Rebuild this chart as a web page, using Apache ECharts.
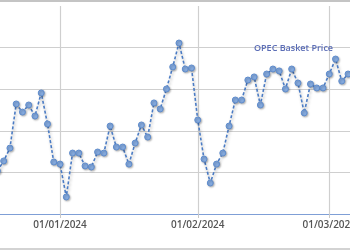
<!DOCTYPE html>
<html>
<head>
<meta charset="utf-8">
<script src="https://cdn.jsdelivr.net/npm/echarts@6/dist/echarts.min.js"></script>
<style>html,body{margin:0;padding:0;background:#fff;}#c{width:350px;height:250px;}</style>
</head>
<body>
<div id="c"></div>
<script>
var dates = [
  "15/12/2023","18/12/2023","19/12/2023","20/12/2023","21/12/2023","22/12/2023","26/12/2023","27/12/2023","28/12/2023","29/12/2023",
  "01/01/2024","02/01/2024","03/01/2024","04/01/2024","05/01/2024","08/01/2024","09/01/2024","10/01/2024","11/01/2024","12/01/2024",
  "16/01/2024","17/01/2024","18/01/2024","19/01/2024","22/01/2024","23/01/2024","24/01/2024","25/01/2024","26/01/2024","29/01/2024",
  "30/01/2024","31/01/2024",
  "01/02/2024","02/02/2024","05/02/2024","06/02/2024","07/02/2024","08/02/2024","09/02/2024","12/02/2024","13/02/2024","14/02/2024",
  "15/02/2024","16/02/2024","19/02/2024","20/02/2024","21/02/2024","22/02/2024","23/02/2024","26/02/2024","27/02/2024","28/02/2024",
  "29/02/2024",
  "01/03/2024","04/03/2024","05/03/2024","06/03/2024","07/03/2024"
];
var prices = [
  76.07,76.55,77.17,79.29,78.90,79.24,78.71,79.82,78.33,76.50,
  76.40,74.82,76.93,76.93,76.31,76.26,76.98,76.93,78.23,77.22,
  77.22,76.40,77.41,78.28,77.70,79.34,79.05,80.01,81.07,82.22,
  80.97,81.02,
  78.52,76.64,75.49,76.40,76.93,78.23,79.48,79.48,80.44,80.59,
  79.24,80.73,80.97,80.88,80.01,80.97,80.30,78.86,80.25,80.06,
  80.06,
  80.73,81.45,80.39,80.73,80.92
];
var monthStarts = ["01/01/2024","01/02/2024","01/03/2024"];
var yTicks = [74, 76, 78, 80, 82, 84];

function isMonthStart(idx, val) { return monthStarts.indexOf(dates[idx]) >= 0; }

var chart = echarts.init(document.getElementById('c'), null, {renderer: 'canvas'});
chart.setOption({
  animation: false,
  title: {
    text: 'OPEC Basket Price',
    left: 254, top: 44, padding: 0,
    textStyle: {fontFamily: 'Open Sans', fontSize: 9, fontWeight: 600, color: '#5b6db6'}
  },
  grid: {left: -2.6, right: -4.3, top: 6, bottom: 36, containLabel: false, outerBoundsMode: 'none'},
  xAxis: {
    type: 'category',
    data: dates,
    boundaryGap: false,
    axisLine: {show: true, lineStyle: {color: '#7f9fd6', width: 1.2}},
    axisTick: {show: true, interval: isMonthStart, length: 4, lineStyle: {color: '#c8c8c8'}},
    splitLine: {show: true, interval: isMonthStart, lineStyle: {color: '#cfcfcf', width: 1.2}},
    axisLabel: {
      interval: isMonthStart, margin: 6,
      fontFamily: 'Open Sans', fontSize: 10, fontWeight: 600, color: '#555555',
      formatter: function (v) { return v; }
    }
  },
  yAxis: {
    type: 'value',
    min: yTicks[0], max: yTicks[yTicks.length - 1], interval: 2,
    axisLine: {show: false}, axisTick: {show: false}, axisLabel: {show: false},
    splitLine: {show: true, lineStyle: {color: ['#cfcfcf','#cfcfcf','#cfcfcf','#cfcfcf','#cfcfcf','rgba(0,0,0,0)'], width: 1.2}}
  },
  graphic: [
    {type: 'line', shape: {x1: 0, y1: 1, x2: 350, y2: 1}, style: {stroke: '#c4c4c4', lineWidth: 2}, silent: true},
    {type: 'line', shape: {x1: 0, y1: 249, x2: 350, y2: 249}, style: {stroke: '#c4c4c4', lineWidth: 1.5}, silent: true}
  ],
  series: [{
    name: 'OPEC Basket Price',
    type: 'line',
    data: prices,
    clip: true,
    symbol: 'circle',
    symbolSize: 6,
    showAllSymbol: true,
    lineStyle: {color: '#4a7bc4', width: 1.6, type: [3, 2], shadowColor: 'rgba(0,0,0,0.3)', shadowBlur: 3, shadowOffsetX: 1, shadowOffsetY: 2},
    itemStyle: {color: '#85abe0', borderColor: '#5f8ccc', borderWidth: 1, shadowColor: 'rgba(0,0,0,0.25)', shadowBlur: 2, shadowOffsetX: 1, shadowOffsetY: 1}
  }]
});
</script>
</body>
</html>
